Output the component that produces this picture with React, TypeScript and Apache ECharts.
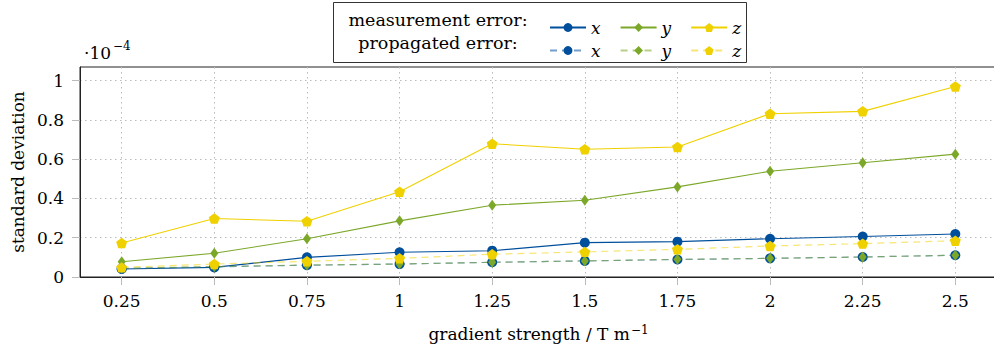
import React, { useEffect, useRef } from 'react';
import * as echarts from 'echarts';

const gradient = [0.25, 0.5, 0.75, 1, 1.25, 1.5, 1.75, 2, 2.25, 2.5];
const measX = [0.041, 0.049, 0.1, 0.126, 0.134, 0.175, 0.18, 0.195, 0.206, 0.219];
const measY = [0.078, 0.121, 0.195, 0.286, 0.366, 0.391, 0.459, 0.539, 0.582, 0.626];
const measZ = [0.173, 0.298, 0.284, 0.434, 0.679, 0.651, 0.662, 0.832, 0.844, 0.971];
const propX = [0.043, 0.052, 0.06, 0.066, 0.075, 0.082, 0.089, 0.095, 0.102, 0.111];
const propY = [0.044, 0.053, 0.061, 0.066, 0.075, 0.082, 0.09, 0.095, 0.102, 0.111];
const propZ = [0.049, 0.066, 0.08, 0.095, 0.116, 0.128, 0.141, 0.158, 0.17, 0.185];
const yTicks = [0, 0.2, 0.4, 0.6, 0.8, 1];

const BLUE = '#004f9c';
const GREEN = '#7ca82a';
const YELLOW = '#f0d100';
const FONT = 'DejaVu Serif';
const PENTAGON = 'path://M0,-1 L0.951,-0.309 L0.588,0.809 L-0.588,0.809 L-0.951,-0.309 Z';

export default function App() {
  const ref = useRef<HTMLDivElement>(null);
  useEffect(() => {
    if (!ref.current) return;
    const chart = echarts.init(ref.current, null, { renderer: 'svg' });
    const mk = (name: string, vals: number[], color: string, symbol: string, size: any, dashed: boolean) => ({
      name,
      type: 'line',
      data: gradient.map((g, i) => [g, vals[i]]),
      symbol,
      symbolSize: size,
      symbolKeepAspect: true,
      showAllSymbol: true,
      itemStyle: { color, opacity: 1 },
      lineStyle: dashed
        ? { color, width: 1.2, type: [7, 5], opacity: 0.55 }
        : { color, width: 1.1, type: 'solid', opacity: 1 },
      emphasis: { disabled: true },
    });
    const legendCommon = {
      orient: 'horizontal',
      itemWidth: 36,
      itemHeight: 11,
      itemGap: 19,
      selectedMode: false,
      formatter: (n: string) => n.trim(),
      textStyle: { fontFamily: FONT, fontStyle: 'italic', fontSize: 17, color: '#000' },
      z: 10,
    };
    chart.setOption({
      animation: false,
      backgroundColor: '#fff',
      grid: {
        left: 80,
        right: -3,
        top: 67,
        bottom: 69,
        outerBoundsMode: 'none',
        containLabel: false,
        show: true,
        borderColor: '#222',
        borderWidth: 1,
        backgroundColor: 'transparent',
      },
      legend: [
        { ...legendCommon, data: ['x', 'y', 'z'], left: 544, top: 14 },
        { ...legendCommon, data: ['x ', 'y ', 'z '], left: 544, top: 37 },
      ],
      xAxis: {
        type: 'value',
        min: 0.1375,
        max: 2.6125,
        name: 'gradient strength / T m{sup|−1}',
        nameLocation: 'middle',
        nameGap: 47,
        nameTextStyle: {
          fontFamily: FONT,
          fontSize: 17,
          color: '#000',
          rich: { sup: { fontFamily: FONT, fontSize: 12, color: '#000', verticalAlign: 'top', padding: [0, 0, 8, 1] } },
        },
        axisLine: { show: true, lineStyle: { color: '#222', width: 1 } },
        axisTick: { show: true, length: 8, customValues: gradient, lineStyle: { color: '#bbb' } },
        axisLabel: {
          customValues: gradient,
          margin: 15,
          fontFamily: FONT,
          fontSize: 17,
          color: '#000',
          formatter: (v: number) => String(v),
        },
        splitLine: { show: true, lineStyle: { color: '#bbb', type: [1.5, 3.5], width: 1 } },
      },
      yAxis: {
        type: 'value',
        min: 0,
        max: 1.07,
        name: 'standard deviation',
        nameLocation: 'middle',
        nameGap: 53,
        nameTextStyle: { fontFamily: FONT, fontSize: 17, color: '#000' },
        axisLine: { show: true, lineStyle: { color: '#222', width: 1 } },
        axisTick: { show: true, length: 8, customValues: yTicks, lineStyle: { color: '#bbb' } },
        axisLabel: {
          customValues: yTicks,
          margin: 16,
          fontFamily: FONT,
          fontSize: 17,
          color: '#000',
          formatter: (v: number) => String(+v.toFixed(2)),
        },
        splitLine: { show: true, lineStyle: { color: '#bbb', type: [1.5, 3.5], width: 1 } },
      },
      graphic: [
        {
          type: 'rect',
          z: 5,
          shape: { x: 333.5, y: 2.5, width: 413, height: 60 },
          style: { fill: '#fff', stroke: '#333', lineWidth: 1 },
        },
        {
          type: 'text',
          z: 6,
          x: 438,
          y: 20,
          style: { text: 'measurement error:', font: `17.5px "${FONT}"`, fill: '#000', align: 'center', verticalAlign: 'middle' },
        },
        {
          type: 'text',
          z: 6,
          x: 438,
          y: 43,
          style: { text: 'propagated error:', font: `17.5px "${FONT}"`, fill: '#000', align: 'center', verticalAlign: 'middle' },
        },
        {
          type: 'text',
          z: 6,
          x: 84,
          y: 53,
          style: { text: '·10', font: `17px "${FONT}"`, fill: '#000', align: 'left', verticalAlign: 'middle' },
        },
        {
          type: 'text',
          z: 6,
          x: 113,
          y: 46,
          style: { text: '−4', font: `12px "${FONT}"`, fill: '#000', align: 'left', verticalAlign: 'middle' },
        },
      ],
      series: [
        mk('x', measX, BLUE, 'circle', 10, false),
        mk('y', measY, GREEN, 'diamond', [8, 11], false),
        mk('z', measZ, YELLOW, PENTAGON, 11, false),
        mk('x ', propX, BLUE, 'circle', 10, true),
        mk('y ', propY, GREEN, 'diamond', [8, 11], true),
        mk('z ', propZ, YELLOW, PENTAGON, 11, true),
      ],
    });
    return () => chart.dispose();
  }, []);
  return <div ref={ref} style={{ position: 'fixed', left: 0, top: 0, width: 994, height: 346 }} />;
}
